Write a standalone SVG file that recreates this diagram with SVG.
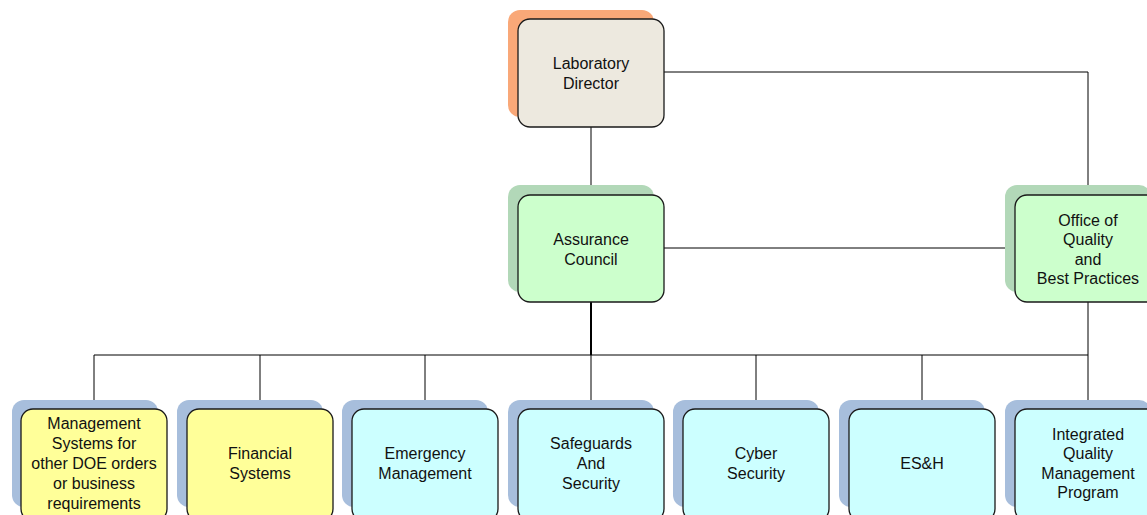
<svg xmlns="http://www.w3.org/2000/svg" width="1147" height="515" viewBox="0 0 1147 515">
<style>
.box{stroke:#1a1a1a;stroke-width:1.3}
.sh-o{fill:#F9A878}
.sh-g{fill:#B2D8B8}
.sh-b{fill:#A7BEDC}
.dir{fill:#EDE9DF}
.grn{fill:#CCFFCC}
.yel{fill:#FFFF99}
.cyn{fill:#CCFFFF}
text{font-family:"Liberation Sans",Arial,sans-serif;font-size:16px;fill:#111;text-anchor:middle}
.ln{stroke:#000;stroke-width:1;fill:none}
</style>
<rect width="1147" height="515" fill="#fff"/>
<g id="connectors">
<path class="ln" d="M591,127 V195"/>
<path class="ln" d="M664,72 H1088 V195"/>
<path class="ln" d="M664,248 H1015"/>
<path class="ln" d="M591,302 V355" style="stroke-width:2"/>
<path class="ln" d="M1088,302 V409"/>
<path class="ln" d="M94,355 H1088"/>
<path class="ln" d="M94,355 V409 M260,355 V409 M425,355 V409 M591,355 V409 M756,355 V409 M922,355 V409"/>
</g>
<g id="director">
<rect class="sh-o" x="508" y="10" width="146" height="107" rx="12"/>
<rect class="box dir" x="518" y="19" width="146" height="108" rx="12"/>
<text x="591" y="69">Laboratory</text>
<text x="591" y="89">Director</text>
</g>
<g id="assurance">
<rect class="sh-g" x="508" y="185" width="146" height="107" rx="12"/>
<rect class="box grn" x="518" y="195" width="146" height="107" rx="12"/>
<text x="591" y="245">Assurance</text>
<text x="591" y="265">Council</text>
</g>
<g id="oqbp">
<rect class="sh-g" x="1005" y="185" width="146" height="107" rx="12"/>
<rect class="box grn" x="1015" y="195" width="146" height="107" rx="12"/>
<text x="1088" y="225.5">Office of</text>
<text x="1088" y="245">Quality</text>
<text x="1088" y="264.5">and</text>
<text x="1088" y="284">Best Practices</text>
</g>
<g id="mgmt">
<rect class="sh-b" x="12" y="400" width="146" height="107" rx="12"/>
<rect class="box yel" x="21" y="409" width="146" height="112" rx="12"/>
<text x="94" y="429">Management</text>
<text x="94" y="449">Systems for</text>
<text x="94" y="469">other DOE orders</text>
<text x="94" y="489">or business</text>
<text x="94" y="509">requirements</text>
</g>
<g id="financial">
<rect class="sh-b" x="177" y="400" width="146" height="107" rx="12"/>
<rect class="box yel" x="187" y="409" width="146" height="112" rx="12"/>
<text x="260" y="459">Financial</text>
<text x="260" y="479">Systems</text>
</g>
<g id="emergency">
<rect class="sh-b" x="342" y="400" width="146" height="107" rx="12"/>
<rect class="box cyn" x="352" y="409" width="146" height="112" rx="12"/>
<text x="425" y="459">Emergency</text>
<text x="425" y="479">Management</text>
</g>
<g id="safeguards">
<rect class="sh-b" x="508" y="400" width="146" height="107" rx="12"/>
<rect class="box cyn" x="518" y="409" width="146" height="112" rx="12"/>
<text x="591" y="449">Safeguards</text>
<text x="591" y="469">And</text>
<text x="591" y="489">Security</text>
</g>
<g id="cyber">
<rect class="sh-b" x="673" y="400" width="146" height="107" rx="12"/>
<rect class="box cyn" x="683" y="409" width="146" height="112" rx="12"/>
<text x="756" y="459">Cyber</text>
<text x="756" y="479">Security</text>
</g>
<g id="esh">
<rect class="sh-b" x="839" y="400" width="146" height="107" rx="12"/>
<rect class="box cyn" x="849" y="409" width="146" height="112" rx="12"/>
<text x="922" y="469">ES&amp;H</text>
</g>
<g id="iqmp">
<rect class="sh-b" x="1005" y="400" width="146" height="107" rx="12"/>
<rect class="box cyn" x="1015" y="409" width="146" height="112" rx="12"/>
<text x="1088" y="439.5">Integrated</text>
<text x="1088" y="459">Quality</text>
<text x="1088" y="478.5">Management</text>
<text x="1088" y="498">Program</text>
</g>
</svg>
